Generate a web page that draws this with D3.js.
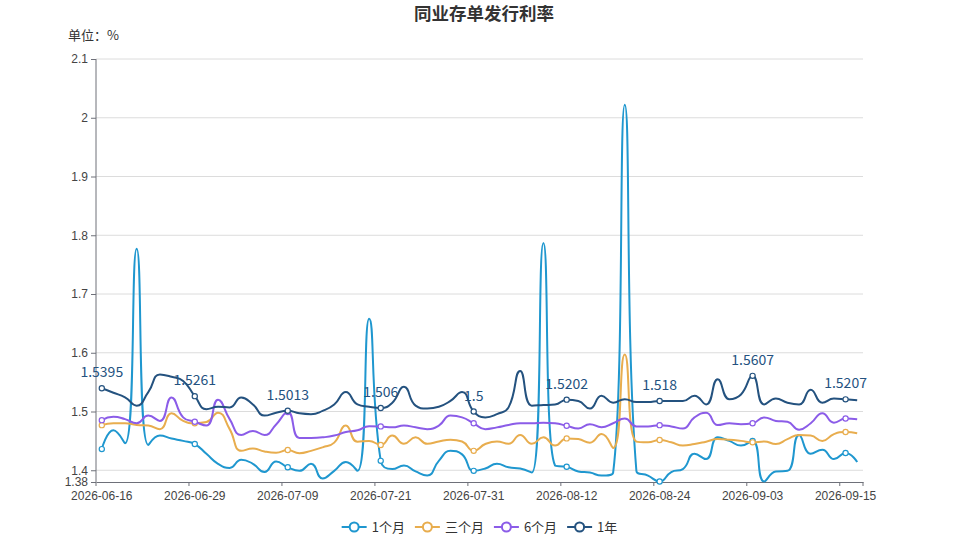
<!DOCTYPE html>
<html>
<head>
<meta charset="utf-8">
<script src="https://cdn.jsdelivr.net/npm/d3@7/dist/d3.min.js"></script>
<style>
	body { margin: 0; background: #fff; }
	svg { display: block; font-family: "Noto Sans CJK SC", "Noto Sans", sans-serif; }
	.axis path, .axis line { stroke: #6e7079; }
	.axis text { fill: #444; font-size: 12px; }
	.grid line { stroke: #dcdcdc; }
</style>
</head>
<body>
<svg width="959" height="540"></svg>
<script>
(()=>{
	//data
	let dates = ["2026-06-16","2026-06-17","2026-06-18","2026-06-22","2026-06-23","2026-06-24","2026-06-25","2026-06-26","2026-06-29","2026-06-30",
		"2026-07-01","2026-07-02","2026-07-03","2026-07-06","2026-07-07","2026-07-08","2026-07-09","2026-07-10","2026-07-13","2026-07-14",
		"2026-07-15","2026-07-16","2026-07-17","2026-07-20","2026-07-21","2026-07-22","2026-07-23","2026-07-24","2026-07-27","2026-07-28",
		"2026-07-29","2026-07-30","2026-07-31","2026-08-03","2026-08-04","2026-08-05","2026-08-06","2026-08-07","2026-08-10","2026-08-11",
		"2026-08-12","2026-08-13","2026-08-14","2026-08-17","2026-08-18","2026-08-19","2026-08-20","2026-08-21","2026-08-24","2026-08-25",
		"2026-08-26","2026-08-27","2026-08-28","2026-08-31","2026-09-01","2026-09-02","2026-09-03","2026-09-04","2026-09-07","2026-09-08",
		"2026-09-09","2026-09-10","2026-09-11","2026-09-14","2026-09-15","2026-09-16"];
	let xTickLabels = ["2026-06-16","2026-06-29","2026-07-09","2026-07-21","2026-07-31","2026-08-12","2026-08-24","2026-09-03","2026-09-15"];
	let yTicks = [1.38, 1.4, 1.5, 1.6, 1.7, 1.8, 1.9, 2, 2.1];

	let m1 = [1.436,1.468,1.446,1.777,1.443,1.459,1.454,1.450,1.4446,1.428,
		1.411,1.404,1.418,1.411,1.397,1.415,1.405,1.399,1.411,1.386,
		1.399,1.414,1.399,1.658,1.416,1.402,1.408,1.398,1.391,1.416,
		1.433,1.427,1.399,1.403,1.411,1.405,1.403,1.396,1.787,1.408,
		1.406,1.398,1.396,1.391,1.396,2.022,1.399,1.391,1.3808,1.397,
		1.402,1.428,1.419,1.456,1.450,1.442,1.450,1.381,1.398,1.399,
		1.460,1.428,1.435,1.419,1.4294,1.414];
	let m3 = [1.4768,1.480,1.480,1.477,1.476,1.470,1.497,1.484,1.480,1.482,
		1.498,1.470,1.433,1.437,1.432,1.430,1.4345,1.429,1.433,1.439,
		1.447,1.476,1.4486,1.450,1.443,1.459,1.445,1.456,1.445,1.449,
		1.452,1.449,1.433,1.4446,1.449,1.445,1.460,1.445,1.456,1.442,
		1.4542,1.453,1.447,1.4615,1.438,1.597,1.4486,1.4475,1.4514,1.4475,
		1.442,1.4446,1.4486,1.453,1.452,1.450,1.4475,1.449,1.4446,1.453,
		1.460,1.459,1.450,1.4615,1.465,1.463];
	let m6 = [1.4853,1.491,1.487,1.480,1.493,1.484,1.524,1.490,1.4825,1.476,
		1.520,1.487,1.460,1.467,1.460,1.478,1.499,1.455,1.455,1.456,
		1.459,1.465,1.468,1.475,1.4746,1.473,1.476,1.473,1.470,1.476,
		1.493,1.490,1.480,1.470,1.473,1.477,1.480,1.480,1.481,1.480,
		1.4757,1.471,1.4785,1.473,1.480,1.488,1.4746,1.4746,1.4768,1.4746,
		1.471,1.490,1.498,1.477,1.480,1.4785,1.480,1.490,1.484,1.4825,
		1.469,1.480,1.497,1.481,1.488,1.487];
	let y1 = [1.5395,1.532,1.524,1.510,1.533,1.563,1.559,1.552,1.5261,1.504,
		1.508,1.507,1.524,1.512,1.493,1.498,1.5013,1.497,1.4955,1.501,
		1.512,1.533,1.512,1.508,1.506,1.515,1.542,1.510,1.505,1.508,
		1.518,1.533,1.5,1.490,1.4955,1.507,1.569,1.510,1.511,1.512,
		1.5202,1.518,1.505,1.527,1.515,1.521,1.516,1.516,1.518,1.518,
		1.518,1.527,1.512,1.555,1.521,1.529,1.5607,1.512,1.522,1.515,
		1.512,1.537,1.515,1.522,1.5207,1.519];

	let seriesNames = ["1个月", "三个月", "6个月", "1年"];
	let seriesColors = ["#1f97cf", "#e8ad4e", "#8b5ce8", "#24527f"];
	let seriesValues = [m1, m3, m6, y1];
	let labelledSeries = "1年";
	let markEvery = 8;

	let svg = d3.select("svg"),
		margin = {left:96, right:96, top:59, bottom:58},
		svgwidth = +svg.attr("width"),
		svgheight = +svg.attr("height");

	let x = d3.scaleBand()
		.domain(dates)
		.range([margin.left, svgwidth - margin.right]);
	let bw = x.bandwidth();
	let y = d3.scaleLinear()
		.domain([yTicks[0], yTicks[yTicks.length-1]])
		.range([svgheight - margin.bottom, margin.top]);
	let cx = d => x(d) + bw/2;

	//title
	svg.append("text")
		.attr("x", 484).attr("y", 19.5)
		.attr("text-anchor", "middle")
		.style("font-size", "17.5px").style("font-weight", "bold").style("fill", "#333")
		.text("同业存单发行利率");
	svg.append("text")
		.attr("x", 68).attr("y", 40)
		.style("font-size", "13px").style("fill", "#333")
		.text("单位：%");

	//grid
	svg.append("g").attr("class", "grid")
		.selectAll("line").data(yTicks.filter(t => t > yTicks[0]))
		.enter().append("line")
		.attr("x1", x.range()[0]).attr("x2", x.range()[1])
		.attr("y1", d => y(d)).attr("y2", d => y(d));

	//y axis
	svg.append("g").attr("class", "axis")
		.attr("transform", "translate(" + x.range()[0] + ",0)")
		.call(d3.axisLeft(y).tickValues(yTicks).tickFormat(d => String(d)).tickSize(5).tickPadding(3).tickSizeOuter(0))
		.call(g => g.select(".domain").attr("d", "M0," + y.range()[0] + "V" + y.range()[1]));

	//x axis, ticks on band boundaries, labels on band centres
	let gx = svg.append("g").attr("class", "axis")
		.attr("transform", "translate(0," + y.range()[0] + ")")
		.call(d3.axisBottom(x).tickValues(xTickLabels).tickSize(4).tickPadding(5).tickSizeOuter(0));
	gx.selectAll(".tick line").attr("x1", -bw/2).attr("x2", -bw/2);
	gx.append("line")
		.attr("x1", x.range()[1]).attr("x2", x.range()[1])
		.attr("y1", 0).attr("y2", 4);

	//echarts-like smoothing, control points clamped between neighbours
	function smoothCurve(context){
		let pts;
		let clamp = (v, a, b) => Math.max(Math.min(v, Math.max(a, b)), Math.min(a, b));
		return {
			areaStart(){}, areaEnd(){},
			lineStart(){ pts = []; },
			point(px, py){ pts.push([+px, +py]); },
			lineEnd(){
				let smooth = 0.5, prevX, prevY, cpx0, cpy0;
				pts.forEach((p, k) => {
					let [px, py] = p;
					if(k === 0){
						context.moveTo(px, py);
						cpx0 = px; cpy0 = py;
					}else{
						let cpx1 = px, cpy1 = py, ncx0 = px, ncy0 = py;
						if(k < pts.length - 1){
							let [nx, ny] = pts[k+1];
							let vx = nx - prevX, vy = ny - prevY;
							let lenPrev = Math.hypot(px - prevX, py - prevY);
							let lenNext = Math.hypot(nx - px, ny - py);
							let ratio = lenNext / (lenNext + lenPrev);
							ncx0 = px + vx*smooth*ratio;
							ncy0 = py + vy*smooth*ratio;
							ncx0 = clamp(ncx0, nx, px); ncy0 = clamp(ncy0, ny, py);
							vx = ncx0 - px; vy = ncy0 - py;
							cpx1 = px - vx*lenPrev/lenNext;
							cpy1 = py - vy*lenPrev/lenNext;
							cpx1 = clamp(cpx1, prevX, px); cpy1 = clamp(cpy1, prevY, py);
							vx = px - cpx1; vy = py - cpy1;
							ncx0 = px + vx*lenNext/lenPrev;
							ncy0 = py + vy*lenNext/lenPrev;
						}
						context.bezierCurveTo(cpx0, cpy0, cpx1, cpy1, px, py);
						cpx0 = ncx0; cpy0 = ncy0;
					}
					prevX = px; prevY = py;
				});
			}
		};
	}

	let line = d3.line()
		.x((v, i) => cx(dates[i]))
		.y(v => y(v))
		.curve(smoothCurve);

	let series = seriesNames.map((name, s) => ({name:name, color:seriesColors[s], values:seriesValues[s]}));

	let gs = svg.selectAll(".series").data(series)
		.enter().append("g").attr("class", "series");

	gs.append("path")
		.attr("d", d => line(d.values))
		.style("fill", "none")
		.style("stroke", d => d.color)
		.style("stroke-width", 2)
		.style("stroke-linejoin", "round");

	gs.each(function(d){
		let marks = d.values.map((v, i) => ({v:v, date:dates[i]})).filter((p, i) => i % markEvery === 0);
		d3.select(this).selectAll("circle").data(marks)
			.enter().append("circle")
			.attr("cx", p => cx(p.date))
			.attr("cy", p => y(p.v))
			.attr("r", 2.6)
			.style("fill", "#fff")
			.style("stroke", d.color)
			.style("stroke-width", 1.2);
		if(d.name === labelledSeries){
			d3.select(this).selectAll(".vlabel").data(marks)
				.enter().append("text")
				.attr("class", "vlabel")
				.attr("x", p => cx(p.date))
				.attr("y", p => y(p.v) - 11)
				.attr("text-anchor", "middle")
				.style("font-size", "14px")
				.style("fill", d.color)
				.text(p => String(p.v));
		}
	});

	//legend
	let lg = svg.append("g").attr("class", "legend");
	let items = lg.selectAll("g").data(series).enter().append("g");
	items.append("line")
		.attr("x1", 0).attr("x2", 25)
		.style("stroke", d => d.color).style("stroke-width", 2);
	items.append("circle")
		.attr("cx", 12.5).attr("r", 4.5)
		.style("fill", "#fff").style("stroke", d => d.color).style("stroke-width", 2);
	items.append("text")
		.attr("x", 30).attr("dy", "0.35em")
		.style("font-size", "13px").style("fill", "#333")
		.text(d => d.name);
	let offs = [], total = 0;
	items.each(function(){
		let w = 30 + d3.select(this).select("text").node().getComputedTextLength();
		offs.push(total);
		total += w + 10;
	});
	total -= 10;
	items.attr("transform", (d, i) => "translate(" + (svgwidth/2 - total/2 + offs[i]) + ",527)");
})();
</script>
</body>
</html>
